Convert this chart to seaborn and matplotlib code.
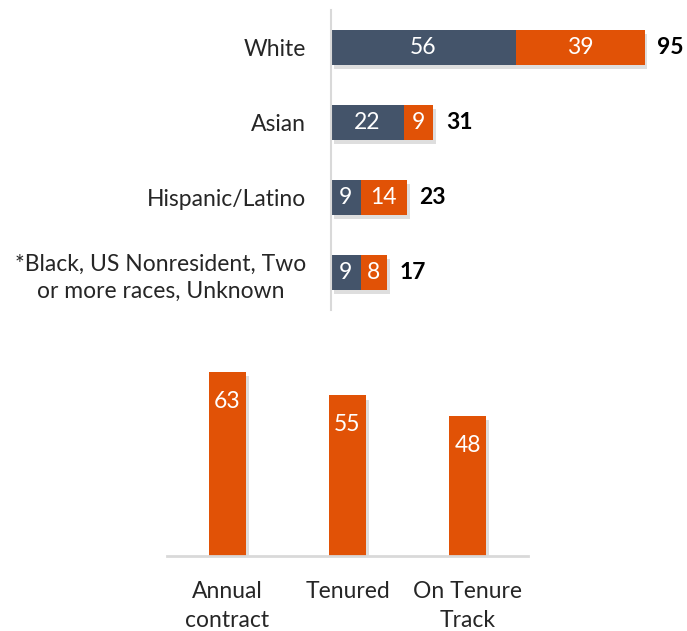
import matplotlib
matplotlib.use("Agg")
import matplotlib.pyplot as plt
import matplotlib.patheffects as pe
import seaborn as sns
import pandas as pd

# Headcount by race/ethnicity, split into two groups
races = ["White", "Asian", "Hispanic/Latino",
         "*Black, US Nonresident, Two\nor more races, Unknown"]
group_a = [56, 22, 9, 9]
group_b = [39, 9, 14, 8]

# Appointment type
appt_types = ["Annual\ncontract", "Tenured", "On Tenure\nTrack"]
appt_values = [63, 55, 48]

NAVY = "#44546A"
ORANGE = "#E15206"
SPINE = "#D9D9D9"

sns.set_theme(style="white")
plt.rcParams["font.family"] = ["Lato", "DejaVu Sans"]

FS = 16.5

fig = plt.figure(figsize=(6.87, 6.31), dpi=100)

shadow = [pe.SimplePatchShadow(offset=(2, -3), shadow_rgbFace="#7f7f7f", alpha=0.25),
          pe.Normal()]

# ---- stacked horizontal bars ----
ax1 = fig.add_axes([331 / 687, 1 - 310 / 631, 356 / 687, 300 / 631])
totals = [a + b for a, b in zip(group_a, group_b)]
df = pd.DataFrame({"race": races, "a": group_a, "b": group_b, "total": totals})

sns.barplot(data=df, y="race", x="total", color=ORANGE, saturation=1,
            width=0.47, orient="h", ax=ax1)
sns.barplot(data=df, y="race", x="a", color=NAVY, saturation=1,
            width=0.47, orient="h", ax=ax1)
for p in ax1.patches:
    p.set_linewidth(0)
for p in ax1.patches[:len(races)]:
    p.set_path_effects(shadow)

for i, (a, b, t) in enumerate(zip(group_a, group_b, totals)):
    ax1.text(a / 2, i, str(a), ha="center", va="center", color="white", fontsize=FS)
    ax1.text(a + b / 2, i, str(b), ha="center", va="center", color="white", fontsize=FS)
    ax1.annotate(str(t), (t, i), xytext=(9, 0), textcoords="offset points",
                 ha="left", va="center", color="black", fontsize=FS, fontweight="bold")

ax1.set_xlim(0, 356 / 3.30)
ax1.set_ylim(3.5, -0.5)
ax1.set_xlabel("")
ax1.set_ylabel("")
ax1.set_xticks([])
ax1.tick_params(axis="y", length=0, pad=18, labelsize=FS)
for lbl in ax1.get_yticklabels():
    lbl.set_horizontalalignment("right")
    lbl.set_multialignment("center")
    lbl.set_linespacing(1.4)
for s in ["top", "right", "bottom"]:
    ax1.spines[s].set_visible(False)
ax1.spines["left"].set_color(SPINE)
ax1.spines["left"].set_linewidth(1.5)

# ---- vertical bars ----
ax2 = fig.add_axes([167 / 687, 1 - 556 / 631, 361 / 687, 206 / 631])
df2 = pd.DataFrame({"type": appt_types, "value": appt_values})
sns.barplot(data=df2, x="type", y="value", color=ORANGE, saturation=1,
            width=0.31, ax=ax2)
for p in ax2.patches:
    p.set_linewidth(0)
    p.set_path_effects(shadow)
for i, v in enumerate(appt_values):
    ax2.annotate(str(v), (i, v), xytext=(0, -21), textcoords="offset points",
                 ha="center", va="center", color="white", fontsize=FS)

ax2.set_xlim(-0.5, 2.5)
ax2.set_ylim(0, 206 / 2.92)
ax2.set_xlabel("")
ax2.set_ylabel("")
ax2.set_yticks([])
ax2.tick_params(axis="x", length=0, pad=18, labelsize=FS)
for lbl in ax2.get_xticklabels():
    lbl.set_linespacing(1.45)
for s in ["top", "right", "left"]:
    ax2.spines[s].set_visible(False)
ax2.spines["bottom"].set_color(SPINE)
ax2.spines["bottom"].set_linewidth(2)

fig.savefig("out.png", dpi=100)
